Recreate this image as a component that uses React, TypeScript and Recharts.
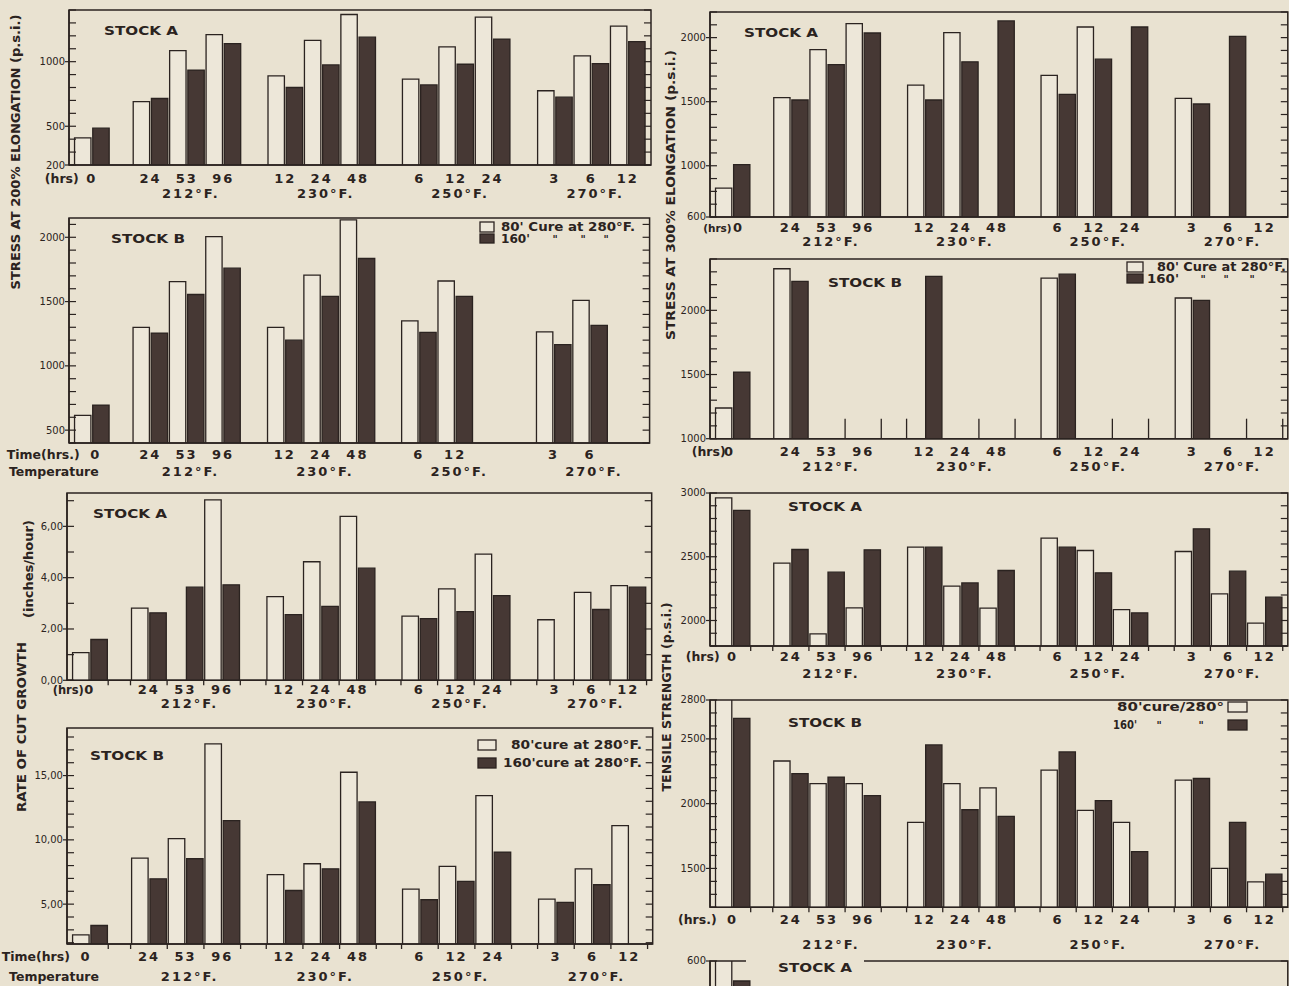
import React from 'react';
import { BarChart, Bar, Cell, XAxis, YAxis, ReferenceArea } from 'recharts';

const BG = '#e9e2d1';
const PAPER = '#ede7d9';
const INK = '#2b2320';
const DARK = '#463834';
const FONT = '"DejaVu Sans", Verdana, sans-serif';

const YW = 70;
const MT = 10;
const MR = 6;
const XH = 50;

// x layout of every panel: one pair of bars per cure time, grouped by temperature
const PAIRS = [1, 3, 3, 3, 3];
const GAPS = [1.22, 1.4, 1.38, 1.42];
const PAD_L = 0.25;
const PAD_R = 0.28;

const groupStarts = () => {
  const out: number[] = [];
  let s = PAD_L;
  PAIRS.forEach((n, g) => {
    out.push(s);
    s += 2 * n + (GAPS[g] ?? 0);
  });
  return out;
};
const STARTS = groupStarts();
const X_MAX = STARTS[4] + 2 * PAIRS[4] + PAD_R;

type Val = number | null;

const HOURS = [['0'], ['24', '53', '96'], ['12', '24', '48'], ['6', '12', '24'], ['3', '6', '12']];
const HOURS_200B = [['0'], ['24', '53', '96'], ['12', '24', '48'], ['6', '12', ''], ['3', '6', '']];
const NO_HOURS = [[''], ['', '', ''], ['', '', ''], ['', '', ''], ['', '', '']];
const TEMPS = ['212°F.', '230°F.', '250°F.', '270°F.'];

// stress at 200% elongation (p.s.i.)
const S200A_80: Val[] = [410, 690, 1085, 1210, 890, 1165, 1365, 865, 1115, 1345, 775, 1045, 1275];
const S200A_160: Val[] = [485, 715, 935, 1140, 800, 975, 1190, 820, 980, 1175, 725, 985, 1155];
const S200A_TICKS = [200, 500, 1000];

const S200B_80: Val[] = [615, 1300, 1655, 2005, 1300, 1705, 2135, 1350, 1660, null, 1265, 1510, null];
const S200B_160: Val[] = [695, 1255, 1555, 1760, 1200, 1540, 1835, 1260, 1540, null, 1165, 1315, null];
const S200B_TICKS = [500, 1000, 1500, 2000];

// rate of cut growth (inches/hour)
const CUTA_80: Val[] = [1.08, 2.81, null, 7.03, 3.26, 4.62, 6.39, 2.5, 3.56, 4.92, 2.36, 3.43, 3.69];
const CUTA_160: Val[] = [1.59, 2.63, 3.63, 3.72, 2.56, 2.88, 4.37, 2.4, 2.68, 3.3, null, 2.76, 3.63];
const CUTA_TICKS = [0, 2, 4, 6];

const CUTB_80: Val[] = [2.61, 8.58, 10.09, 17.47, 7.29, 8.14, 15.26, 6.17, 7.94, 13.44, 5.39, 7.75, 11.1];
const CUTB_160: Val[] = [3.34, 6.97, 8.53, 11.49, 6.06, 7.75, 12.95, 5.34, 6.77, 9.05, 5.13, 6.51, null];
const CUTB_TICKS = [5, 10, 15];

// stress at 300% elongation (p.s.i.)
const S300A_80: Val[] = [826, 1531, 1907, 2109, 1630, 2039, null, 1705, 2083, null, 1526, null, null];
const S300A_160: Val[] = [1008, 1513, 1790, 2036, 1513, 1811, 2130, 1557, 1832, 2083, 1482, 2010, null];
const S300A_TICKS = [600, 1000, 1500, 2000];

const S300B_80: Val[] = [1239, 2324, null, null, null, null, null, 2251, null, null, 2096, null, null];
const S300B_160: Val[] = [1519, 2225, null, null, 2264, null, null, 2282, null, null, 2077, null, null];
const S300B_TICKS = [1000, 1500, 2000];

// tensile strength (p.s.i.)
const TENA_80: Val[] = [2962, 2450, 1895, 2099, 2575, 2269, 2097, 2646, 2549, 2086, 2541, 2209, 1979];
const TENA_160: Val[] = [2863, 2557, 2379, 2554, 2575, 2295, 2392, 2575, 2374, 2060, 2719, 2387, 2183];
const TENA_TICKS = [2000, 2500, 3000];

const TENB_80: Val[] = [2800, 2329, 2155, 2155, 1855, 2155, 2122, 2259, 1948, 1855, 2181, 1500, 1396];
const TENB_160: Val[] = [2658, 2231, 2205, 2062, 2453, 1953, 1902, 2399, 2023, 1630, 2194, 1855, 1456];
const TENB_TICKS = [1500, 2000, 2500, 2800];

// next panel, cut off by the page edge
const NEXT_80: Val[] = [600, null, null, null, null, null, null, null, null, null, null, null, null];
const NEXT_160: Val[] = [540, null, null, null, null, null, null, null, null, null, null, null, null];
const NEXT_TICKS = [600];

type Spec = {
  left: number;
  top: number;
  plotW: number;
  plotH: number;
  domain: [number, number];
  step: number;
  labels: number[];
  dec?: boolean;
  a: Val[];
  b: Val[];
  hours: string[][];
  pre?: string;
  preDx?: number;
  preSize?: number;
  zeroDx?: number;
  tpre?: string;
  tpreDx?: number;
  hrsDy: number;
  tempDy: number;
  edges?: 'down' | number[][];
  noTemps?: boolean;
};

type TickMeta = { pos: number; kind: string; text?: string; dx?: number };

const buildRows = (a: Val[], b: Val[]) => {
  const rows: { x: number; v: Val; kind: string }[] = [];
  let k = 0;
  PAIRS.forEach((n, g) => {
    for (let j = 0; j < n; j++) {
      const s = STARTS[g] + 2 * j;
      rows.push({ x: s + 0.5, v: a[k], kind: 'w' });
      rows.push({ x: s + 1.5, v: b[k], kind: 'd' });
      k++;
    }
  });
  return rows;
};

const buildTicks = (s: Spec) => {
  const out: TickMeta[] = [];
  let eps = 0;
  const add = (m: TickMeta) => {
    eps += 1e-5;
    out.push({ ...m, pos: m.pos + eps });
  };
  PAIRS.forEach((n, g) => {
    for (let j = 0; j < n; j++) {
      const t = s.hours[g][j];
      if (t) add({ pos: STARTS[g] + 2 * j + 1, kind: 'hrs', text: t, dx: g === 0 ? s.zeroDx ?? 0 : 0 });
    }
    if (g > 0 && !s.noTemps) add({ pos: STARTS[g] + n, kind: 'temp', text: TEMPS[g - 1], dx: 4 });
    const eList =
      s.edges === 'down'
        ? g === 0
          ? [1]
          : [0, 1, 2, 3]
        : s.edges
        ? s.edges[g]
        : [];
    eList.forEach((e) =>
      add({ pos: STARTS[g] + 2 * e, kind: s.edges === 'down' ? 'edgeDown' : 'edgeUp' })
    );
  });
  if (s.pre) add({ pos: STARTS[0] + 1, kind: 'pre', text: s.pre, dx: s.preDx ?? -10 });
  if (s.tpre) add({ pos: STARTS[0] + 1, kind: 'tpre', text: s.tpre, dx: s.tpreDx ?? 0 });
  return out;
};

const yTicks = (s: Spec) => {
  const out: number[] = [];
  const start = Math.ceil(s.domain[0] / s.step - 1e-9) * s.step;
  for (let v = start; v <= s.domain[1] + 1e-9; v += s.step) out.push(Math.round(v * 1000) / 1000);
  return out;
};

const XTick = (props: any) => {
  const { x, y, index, meta, spec } = props;
  const m: TickMeta | undefined = meta[index];
  if (!m) return null;
  if (m.kind === 'edgeDown')
    return <line x1={x} x2={x} y1={y} y2={y + 5} stroke={INK} strokeWidth={1.3} />;
  if (m.kind === 'edgeUp')
    return <line x1={x} x2={x} y1={y} y2={y - 20} stroke={INK} strokeWidth={1.3} />;
  const row2 = m.kind === 'temp' || m.kind === 'tpre';
  const side = m.kind === 'pre' || m.kind === 'tpre';
  const size = m.kind === 'pre' ? spec.preSize ?? 12.5 : side ? 12.5 : 13;
  return (
    <text
      x={x + (m.dx ?? 0)}
      y={y + (row2 ? spec.tempDy : spec.hrsDy)}
      textAnchor={side ? 'end' : 'middle'}
      fontFamily={FONT}
      fontWeight="bold"
      fontSize={size}
      letterSpacing={side ? 0 : 2}
      fill={INK}
    >
      {m.text}
    </text>
  );
};

const YTick = (props: any) => {
  const { x, y, payload, spec } = props;
  const v = payload.value;
  const lab = spec.labels.includes(v);
  const txt = spec.dec ? v.toFixed(2).replace('.', ',') : String(v);
  return (
    <g>
      <line x1={x} x2={x + 7} y1={y} y2={y} stroke={INK} strokeWidth={1.2} />
      <line x1={x + spec.plotW - 7} x2={x + spec.plotW} y1={y} y2={y} stroke={INK} strokeWidth={1.2} />
      {lab && (
        <>
          <line x1={x - 4} x2={x} y1={y} y2={y} stroke={INK} strokeWidth={1.2} />
          <text x={x - 4} y={y + 3.5} textAnchor="end" fontFamily={FONT} fontSize={10} fill={INK}>
            {txt}
          </text>
        </>
      )}
    </g>
  );
};

const Panel = ({ s }: { s: Spec }) => {
  const rows = buildRows(s.a, s.b);
  const meta = buildTicks(s);
  const W = YW + s.plotW + MR;
  const H = MT + s.plotH + XH;
  return (
    <div style={{ position: 'absolute', left: s.left - YW, top: s.top - MT }}>
      <BarChart
        width={W}
        height={H}
        data={rows}
        margin={{ top: MT, right: MR, left: 0, bottom: 0 }}
        barCategoryGap={0}
        barGap={0}
      >
        <XAxis
          type="number"
          dataKey="x"
          domain={[0, X_MAX]}
          allowDataOverflow
          ticks={meta.map((m) => m.pos)}
          interval={0}
          tickLine={false}
          axisLine={{ stroke: INK, strokeWidth: 1.5 }}
          tickSize={0}
          tickMargin={0}
          height={XH}
          tick={(p: any) => <XTick {...p} meta={meta} spec={s} />}
        />
        <YAxis
          type="number"
          domain={s.domain}
          allowDataOverflow
          ticks={yTicks(s)}
          interval={0}
          tickLine={false}
          axisLine={{ stroke: INK, strokeWidth: 1.5 }}
          tickSize={0}
          tickMargin={0}
          width={YW}
          tick={(p: any) => <YTick {...p} spec={s} />}
        />
        <ReferenceArea
          x1={0}
          x2={X_MAX}
          y1={s.domain[0]}
          y2={s.domain[1]}
          fill="none"
          stroke={INK}
          strokeWidth={1.5}
        />
        <Bar
          dataKey="v"
          isAnimationActive={false}
          stroke={INK}
          strokeWidth={1.3}
          barSize={s.plotW / X_MAX}
        >
          {rows.map((r, i) => (
            <Cell key={i} fill={r.kind === 'w' ? PAPER : DARK} />
          ))}
        </Bar>
      </BarChart>
    </div>
  );
};

const PANELS: Spec[] = [
  {
    left: 69.4, top: 10, plotW: 582, plotH: 155, domain: [200, 1400], step: 100,
    labels: S200A_TICKS, a: S200A_80, b: S200A_160, hours: HOURS,
    pre: '(hrs)', preDx: -13, zeroDx: 0, hrsDy: 18, tempDy: 33,
  },
  {
    left: 69.4, top: 218.3, plotW: 580.6, plotH: 225, domain: [400, 2150], step: 100,
    labels: S200B_TICKS, a: S200B_80, b: S200B_160, hours: HOURS_200B,
    pre: 'Time(hrs.)', preDx: -12, zeroDx: 4, tpre: 'Temperature', tpreDx: 7, hrsDy: 16.5, tempDy: 33,
  },
  {
    left: 67.3, top: 492.7, plotW: 584.7, plotH: 187.3, domain: [0, 7.3], step: 1,
    labels: CUTA_TICKS, dec: true, a: CUTA_80, b: CUTA_160, hours: HOURS,
    pre: '(hrs)', preDx: -6, preSize: 11.5, zeroDx: 0, hrsDy: 14, tempDy: 27.5, edges: 'down',
  },
  {
    left: 67.3, top: 728.3, plotW: 585.7, plotH: 216, domain: [1.9, 18.7], step: 1,
    labels: CUTB_TICKS, dec: true, a: CUTB_80, b: CUTB_160, hours: HOURS,
    pre: 'Time(hrs)', preDx: -20, zeroDx: -4, tpre: 'Temperature', tpreDx: 9, hrsDy: 17, tempDy: 37.5, edges: 'down',
  },
  {
    left: 710, top: 11.7, plotW: 577.8, plotH: 205, domain: [600, 2200], step: 100,
    labels: S300A_TICKS, a: S300A_80, b: S300A_160, hours: HOURS,
    pre: '(hrs)', preDx: -1, preSize: 10.5, zeroDx: 6, hrsDy: 15, tempDy: 29.5,
  },
  {
    left: 710, top: 259.3, plotW: 577.8, plotH: 179.7, domain: [1000, 2400], step: 100,
    labels: S300B_TICKS, a: S300B_80, b: S300B_160, hours: HOURS,
    pre: '(hrs)', preDx: -7, zeroDx: -3, hrsDy: 17, tempDy: 32,
    edges: [[], [2, 3], [0, 2, 3], [2, 3], [2, 3]],
  },
  {
    left: 710, top: 492.7, plotW: 577.8, plotH: 153, domain: [1800, 3000], step: 100,
    labels: TENA_TICKS, a: TENA_80, b: TENA_160, hours: HOURS,
    pre: '(hrs)', preDx: -13, zeroDx: 0, hrsDy: 15.5, tempDy: 32, edges: 'down',
  },
  {
    left: 710, top: 700, plotW: 577.8, plotH: 207.3, domain: [1200, 2800], step: 100,
    labels: TENB_TICKS, a: TENB_80, b: TENB_160, hours: HOURS,
    pre: '(hrs.)', preDx: -16, zeroDx: 0, hrsDy: 17, tempDy: 41.5, edges: 'down',
  },
  {
    left: 710, top: 961, plotW: 577.8, plotH: 200, domain: [0, 600], step: 100,
    labels: NEXT_TICKS, a: NEXT_80, b: NEXT_160, hours: NO_HOURS, noTemps: true,
    hrsDy: 17, tempDy: 33,
  },
];

const TITLES = [
  { text: 'STRESS AT 200% ELONGATION (p.s.i.)', cx: 15, cy: 152, len: 275, size: 12.5 },
  { text: 'RATE OF CUT GROWTH', cx: 21, cy: 727, len: 170, size: 13 },
  { text: '(inches/hour)', cx: 29, cy: 569, len: 98, size: 12 },
  { text: 'STRESS AT 300% ELONGATION (p.s.i.)', cx: 670, cy: 195, len: 290, size: 12.5 },
  { text: 'TENSILE STRENGTH (p.s.i.)', cx: 666, cy: 697, len: 189, size: 12.5 },
];

const STOCKS = [
  { text: 'STOCK A', x: 104, y: 30 },
  { text: 'STOCK B', x: 111, y: 238 },
  { text: 'STOCK A', x: 93, y: 513 },
  { text: 'STOCK B', x: 90, y: 755 },
  { text: 'STOCK A', x: 744, y: 32 },
  { text: 'STOCK B', x: 828, y: 282 },
  { text: 'STOCK A', x: 788, y: 506 },
  { text: 'STOCK B', x: 788, y: 722 },
  { text: 'STOCK A', x: 778, y: 967 },
];

const T = (p: { x: number; y: number; len?: number; size?: number; anchor?: string; bold?: boolean; children: React.ReactNode }) => (
  <text
    x={p.x}
    y={p.y}
    dominantBaseline="central"
    textAnchor={(p.anchor as any) ?? 'start'}
    textLength={p.len}
    lengthAdjust={p.len ? 'spacingAndGlyphs' : undefined}
    fontFamily={FONT}
    fontWeight={p.bold === false ? 'normal' : 'bold'}
    fontSize={p.size ?? 11.5}
    fill={INK}
  >
    {p.children}
  </text>
);

const Box = ({ x, y, w, h, dark }: { x: number; y: number; w: number; h: number; dark?: boolean }) => (
  <rect x={x} y={y} width={w} height={h} fill={dark ? DARK : PAPER} stroke={INK} strokeWidth={1.3} />
);

// ditto marks drawn as small text, sitting on the second legend row
const Ditto = ({ x, y }: { x: number; y: number }) => (
  <text x={x} y={y} textAnchor="middle" fontFamily={FONT} fontWeight="bold" fontSize={10} fill={INK}>
    "
  </text>
);

const Overlay = () => (
  <svg width={1289} height={986} style={{ position: 'absolute', left: 0, top: 0, pointerEvents: 'none' }}>
    {TITLES.map((t, i) => (
      <text
        key={i}
        transform={`translate(${t.cx},${t.cy}) rotate(-90)`}
        textAnchor="middle"
        dominantBaseline="central"
        textLength={t.len}
        lengthAdjust="spacingAndGlyphs"
        fontFamily={FONT}
        fontWeight="bold"
        fontSize={t.size}
        fill={INK}
      >
        {t.text}
      </text>
    ))}
    <rect x={746} y={956} width={118} height={9} fill={BG} />
    {STOCKS.map((s, i) => (
      <T key={i} x={s.x} y={s.y} len={74} size={13}>
        {s.text}
      </T>
    ))}

    {/* legend, stress 200% stock B */}
    <Box x={480} y={222} w={14} h={10} />
    <T x={501} y={227} len={134}>80' Cure at 280°F.</T>
    <Box x={480} y={234} w={14} h={9} dark />
    <T x={501} y={239} len={29}>160'</T>
    <Ditto x={555} y={243} />
    <Ditto x={583} y={243} />
    <Ditto x={606} y={243} />

    {/* legend, cut growth stock B */}
    <Box x={478} y={740} w={18} h={10} />
    <T x={511} y={745} len={131}>80'cure at 280°F.</T>
    <Box x={478} y={758} w={18} h={10} dark />
    <T x={503} y={763} len={139}>160'cure at 280°F.</T>

    {/* legend, stress 300% stock B */}
    <Box x={1127} y={262} w={16} h={10} />
    <T x={1157} y={267} len={129}>80' Cure at 280°F.</T>
    <Box x={1127} y={274} w={16} h={9} dark />
    <T x={1147} y={279} len={32}>160'</T>
    <Ditto x={1203} y={283} />
    <Ditto x={1226} y={283} />
    <Ditto x={1252} y={283} />

    {/* legend, tensile stock B */}
    <T x={1117} y={707} len={107}>80'cure/280°</T>
    <Box x={1228} y={702} w={19} h={10} />
    <T x={1113} y={725} len={24}>160'</T>
    <Ditto x={1159} y={729} />
    <Ditto x={1201} y={729} />
    <Box x={1228} y={720} w={19} h={10} dark />
  </svg>
);

const App = () => (
  <div
    style={{
      position: 'absolute',
      left: 0,
      top: 0,
      width: 1289,
      height: 986,
      overflow: 'hidden',
      background: BG,
      fontFamily: FONT,
    }}
  >
    {PANELS.map((s, i) => (
      <Panel key={i} s={s} />
    ))}
    <Overlay />
  </div>
);

export default App;
